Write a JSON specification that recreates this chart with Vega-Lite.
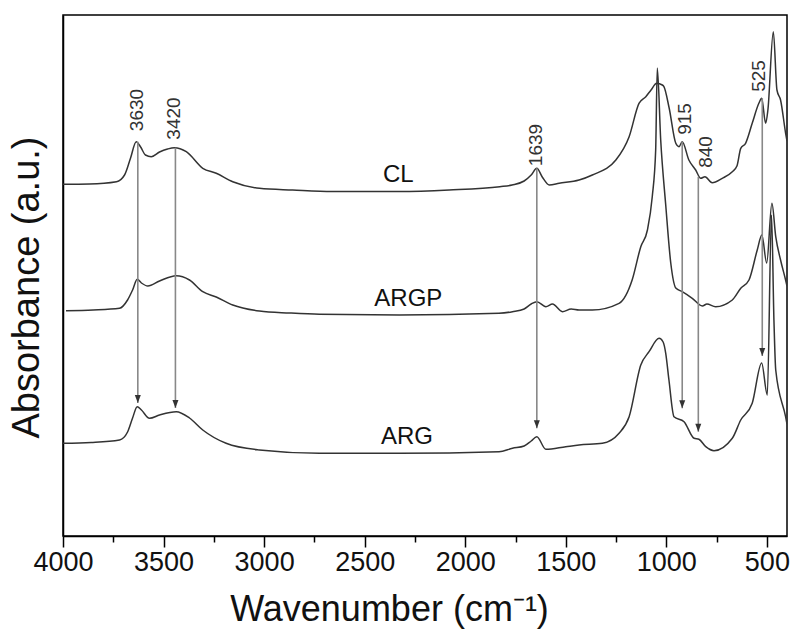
{
  "$schema": "https://vega.github.io/schema/vega-lite/v6.json",
  "autosize": {"type": "none"},
  "padding": {"left": 63, "top": 15, "right": 4, "bottom": 94},
  "width": 724,
  "height": 521,
  "background": "white",
  "config": {"font": "Liberation Sans", "view": {"stroke": "black", "strokeWidth": 1.5}},
  "datasets": {
    "spectra": [
      {"s":"CL","w":4000,"a":351.7},{"s":"CL","w":3868,"a":352},{"s":"CL","w":3734,"a":354.3},{"s":"CL","w":3694,"a":361},{"s":"CL","w":3664,"a":378},{"s":"CL","w":3636,"a":394.3},{"s":"CL","w":3614,"a":389},{"s":"CL","w":3590,"a":381},{"s":"CL","w":3561,"a":379.3},{"s":"CL","w":3520,"a":384},{"s":"CL","w":3480,"a":387},{"s":"CL","w":3446,"a":388.3},{"s":"CL","w":3387,"a":384.3},{"s":"CL","w":3305,"a":367.7},{"s":"CL","w":3238,"a":362.7},{"s":"CL","w":3156,"a":354.3},{"s":"CL","w":3023,"a":347.7},{"s":"CL","w":2858,"a":346},{"s":"CL","w":2661,"a":344.5},{"s":"CL","w":2328,"a":344.5},{"s":"CL","w":2080,"a":346},{"s":"CL","w":1828,"a":349.3},{"s":"CL","w":1767,"a":351},{"s":"CL","w":1707,"a":355},{"s":"CL","w":1672,"a":361},{"s":"CL","w":1644,"a":367.7},{"s":"CL","w":1617,"a":359},{"s":"CL","w":1582,"a":351},{"s":"CL","w":1533,"a":352.7},{"s":"CL","w":1434,"a":356},{"s":"CL","w":1368,"a":361},{"s":"CL","w":1251,"a":376},{"s":"CL","w":1185,"a":399.3},{"s":"CL","w":1136,"a":432.7},{"s":"CL","w":1102,"a":439.3},{"s":"CL","w":1076,"a":446},{"s":"CL","w":1048,"a":452.7},{"s":"CL","w":1020,"a":451},{"s":"CL","w":1012,"a":449.3},{"s":"CL","w":986,"a":428},{"s":"CL","w":953,"a":392.7},{"s":"CL","w":937,"a":389.3},{"s":"CL","w":921,"a":394.3},{"s":"CL","w":888,"a":376},{"s":"CL","w":854,"a":366},{"s":"CL","w":829,"a":357.7},{"s":"CL","w":808,"a":359.3},{"s":"CL","w":772,"a":353.3},{"s":"CL","w":722,"a":357.7},{"s":"CL","w":672,"a":364.3},{"s":"CL","w":649,"a":370},{"s":"CL","w":630,"a":387.7},{"s":"CL","w":606,"a":392.7},{"s":"CL","w":573,"a":412.7},{"s":"CL","w":540,"a":432.7},{"s":"CL","w":526,"a":437.7},{"s":"CL","w":506,"a":412.7},{"s":"CL","w":495,"a":426},{"s":"CL","w":468,"a":504.3},{"s":"CL","w":450,"a":446},{"s":"CL","w":432,"a":436},{"s":"CL","w":407,"a":403},{"s":"CL","w":400,"a":395},
      {"s":"ARGP","w":3985,"a":225.3},{"s":"ARGP","w":3850,"a":226},{"s":"ARGP","w":3719,"a":227.7},{"s":"ARGP","w":3679,"a":236},{"s":"ARGP","w":3654,"a":246},{"s":"ARGP","w":3631,"a":256.7},{"s":"ARGP","w":3610,"a":253},{"s":"ARGP","w":3578,"a":250},{"s":"ARGP","w":3520,"a":255},{"s":"ARGP","w":3437,"a":260.3},{"s":"ARGP","w":3371,"a":256},{"s":"ARGP","w":3305,"a":244.3},{"s":"ARGP","w":3238,"a":239},{"s":"ARGP","w":3156,"a":231},{"s":"ARGP","w":3023,"a":225},{"s":"ARGP","w":2874,"a":223},{"s":"ARGP","w":2725,"a":221.7},{"s":"ARGP","w":2328,"a":221},{"s":"ARGP","w":1832,"a":222.7},{"s":"ARGP","w":1765,"a":224.3},{"s":"ARGP","w":1707,"a":227},{"s":"ARGP","w":1672,"a":232},{"s":"ARGP","w":1644,"a":234.3},{"s":"ARGP","w":1599,"a":229.3},{"s":"ARGP","w":1566,"a":232},{"s":"ARGP","w":1517,"a":224.3},{"s":"ARGP","w":1473,"a":227},{"s":"ARGP","w":1434,"a":226},{"s":"ARGP","w":1368,"a":226},{"s":"ARGP","w":1235,"a":232.7},{"s":"ARGP","w":1170,"a":256},{"s":"ARGP","w":1127,"a":289.3},{"s":"ARGP","w":1094,"a":306},{"s":"ARGP","w":1070,"a":339.3},{"s":"ARGP","w":1053,"a":386},{"s":"ARGP","w":1045,"a":468},{"s":"ARGP","w":1028,"a":396},{"s":"ARGP","w":1003,"a":331},{"s":"ARGP","w":978,"a":273},{"s":"ARGP","w":953,"a":248},{"s":"ARGP","w":921,"a":244.3},{"s":"ARGP","w":871,"a":237.7},{"s":"ARGP","w":821,"a":230},{"s":"ARGP","w":798,"a":232},{"s":"ARGP","w":755,"a":229.3},{"s":"ARGP","w":672,"a":236},{"s":"ARGP","w":630,"a":247.7},{"s":"ARGP","w":589,"a":256},{"s":"ARGP","w":548,"a":286},{"s":"ARGP","w":525,"a":301},{"s":"ARGP","w":501,"a":273},{"s":"ARGP","w":475,"a":332.7},{"s":"ARGP","w":456,"a":299.3},{"s":"ARGP","w":432,"a":276},{"s":"ARGP","w":407,"a":256},{"s":"ARGP","w":400,"a":250},
      {"s":"ARG","w":4000,"a":92.7},{"s":"ARG","w":3860,"a":93.5},{"s":"ARG","w":3719,"a":96},{"s":"ARG","w":3679,"a":104},{"s":"ARG","w":3654,"a":118},{"s":"ARG","w":3631,"a":129.3},{"s":"ARG","w":3610,"a":126},{"s":"ARG","w":3570,"a":117.7},{"s":"ARG","w":3520,"a":121},{"s":"ARG","w":3437,"a":124.3},{"s":"ARG","w":3371,"a":118},{"s":"ARG","w":3305,"a":106},{"s":"ARG","w":3189,"a":92.7},{"s":"ARG","w":3023,"a":86},{"s":"ARG","w":2725,"a":82.7},{"s":"ARG","w":2328,"a":82.7},{"s":"ARG","w":1832,"a":84.3},{"s":"ARG","w":1765,"a":87.7},{"s":"ARG","w":1707,"a":90},{"s":"ARG","w":1672,"a":95},{"s":"ARG","w":1644,"a":99.3},{"s":"ARG","w":1599,"a":86.7},{"s":"ARG","w":1500,"a":89.3},{"s":"ARG","w":1434,"a":91},{"s":"ARG","w":1318,"a":92.7},{"s":"ARG","w":1235,"a":102.7},{"s":"ARG","w":1185,"a":119.3},{"s":"ARG","w":1127,"a":171},{"s":"ARG","w":1086,"a":184.3},{"s":"ARG","w":1036,"a":197.7},{"s":"ARG","w":1016,"a":194},{"s":"ARG","w":1003,"a":182.7},{"s":"ARG","w":987,"a":156},{"s":"ARG","w":962,"a":119.3},{"s":"ARG","w":912,"a":114.3},{"s":"ARG","w":862,"a":97.7},{"s":"ARG","w":838,"a":96.7},{"s":"ARG","w":804,"a":89.3},{"s":"ARG","w":763,"a":85.3},{"s":"ARG","w":672,"a":97.7},{"s":"ARG","w":630,"a":116},{"s":"ARG","w":573,"a":132.7},{"s":"ARG","w":526,"a":173},{"s":"ARG","w":498,"a":141},{"s":"ARG","w":477,"a":321},{"s":"ARG","w":465,"a":216},{"s":"ARG","w":456,"a":166},{"s":"ARG","w":407,"a":119.3},{"s":"ARG","w":400,"a":112}
    ],
    "arrows": [
      {"w":3628,"a":394.3,"a2":133},
      {"w":3441,"a":388.3,"a2":128},
      {"w":1644,"a":367.7,"a2":107.7},
      {"w":921,"a":394.3,"a2":127.7},
      {"w":841,"a":359.3,"a2":104.3},
      {"w":523,"a":437.7,"a2":180}
    ],
    "peaklabels": [
      {"w":3633,"a":426,"t":"3630"},
      {"w":3446,"a":417.5,"t":"3420"},
      {"w":1647,"a":391,"t":"1639"},
      {"w":909,"a":417,"t":"915"},
      {"w":804,"a":384,"t":"840"},
      {"w":540,"a":460,"t":"525"}
    ],
    "curvelabels": [
      {"w":2333,"a":361,"t":"CL"},
      {"w":2283,"a":237,"t":"ARGP"},
      {"w":2290,"a":99,"t":"ARG"}
    ]
  },
  "encoding": {
    "x": {
      "field": "w", "type": "quantitative",
      "scale": {"domain": [400, 4000], "reverse": true, "nice": false, "zero": false},
      "axis": {
        "title": "Wavenumber (cm⁻¹)",
        "values": [4000,3750,3500,3250,3000,2750,2500,2250,2000,1750,1500,1250,1000,750,500],
        "format": "d",
        "labelExpr": "datum.value % 500 === 0 ? datum.label : ''",
        "tickSize": {"condition": {"test": "datum.value % 500 === 0", "value": 11}, "value": 6},
        "tickColor": "black", "tickWidth": 1.5,
        "domainColor": "black", "domainWidth": 1.5,
        "labelFontSize": 27, "labelColor": "#111", "labelPadding": 2,
        "labelFlush": false, "labelOverlap": false,
        "grid": false,
        "titleFontSize": 36, "titleFontWeight": "normal", "titleColor": "#111",
        "titleX": 326, "titleY": 84, "titleBaseline": "alphabetic", "titleAlign": "center"
      }
    },
    "y": {
      "field": "a", "type": "quantitative",
      "scale": {"domain": [0, 521], "nice": false, "zero": false},
      "axis": {
        "title": "Absorbance (a.u.)",
        "ticks": false, "labels": false, "grid": false,
        "domainColor": "black", "domainWidth": 1.5,
        "titleFontSize": 38, "titleFontWeight": "normal", "titleColor": "#111",
        "titleX": -36, "titleY": 272, "titleAlign": "center", "titleBaseline": "middle", "titleAngle": 270
      }
    }
  },
  "layer": [
    {
      "data": {"name": "spectra"},
      "mark": {"type": "line", "color": "#333", "strokeWidth": 1.5, "interpolate": "monotone", "clip": true},
      "encoding": {"detail": {"field": "s"}}
    },
    {
      "data": {"name": "arrows"},
      "mark": {"type": "rule", "color": "#888", "strokeWidth": 1.6},
      "encoding": {"y2": {"field": "a2"}}
    },
    {
      "data": {"name": "arrows"},
      "mark": {"type": "point", "shape": "M-0.75,-1L0.75,-1L0,1Z", "size": 64, "filled": true, "color": "#333", "opacity": 1, "yOffset": -4},
      "encoding": {"y": {"field": "a2", "type": "quantitative"}}
    },
    {
      "data": {"name": "peaklabels"},
      "mark": {"type": "text", "angle": 270, "align": "center", "baseline": "middle", "fontSize": 19, "color": "#333"},
      "encoding": {"text": {"field": "t"}}
    },
    {
      "data": {"name": "curvelabels"},
      "mark": {"type": "text", "align": "center", "baseline": "middle", "fontSize": 24, "color": "#111"},
      "encoding": {"text": {"field": "t"}}
    }
  ]
}
